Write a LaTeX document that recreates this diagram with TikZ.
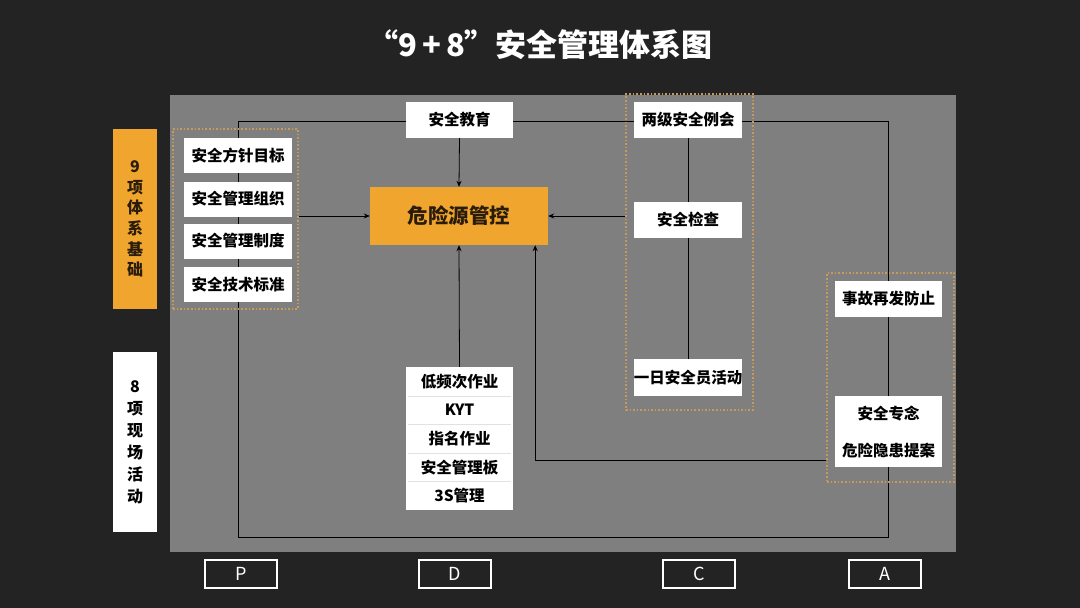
\documentclass[tikz,border=0pt]{standalone}
\usepackage{fontspec}
\setmainfont{Noto Sans CJK SC}
\usetikzlibrary{arrows.meta}
\pgfdeclarelayer{back}
\pgfdeclarelayer{bg}
\pgfsetlayers{back,bg,main}
\definecolor{bgdark}{HTML}{232323}
\definecolor{panel}{HTML}{7F7F7F}
\definecolor{orng}{HTML}{F0A52E}
\definecolor{dots}{HTML}{C99A58}
\definecolor{darktxt}{HTML}{2A1C0A}
\definecolor{sep}{HTML}{E2E2E2}
\tikzset{
  wbox/.style={fill=white, minimum width=107pt, minimum height=36pt, inner sep=0pt,
    font=\bfseries\fontsize{15.5}{15.5}\selectfont, text=black},
  rowbox/.style={fill=white, minimum width=107pt, minimum height=28.6pt, inner sep=0pt,
    font=\bfseries\fontsize{15.5}{15.5}\selectfont, text=black},
  dotbox/.style={draw=dots, dotted, line width=1.6pt, inner sep=0pt},
  side/.style={minimum width=44pt, minimum height=180pt, inner sep=0pt, align=center},
  pdca/.style={draw=white, line width=1.3pt, minimum width=72pt, minimum height=28pt,
    inner sep=0pt, text=white, font=\fontsize{18}{18}\selectfont},
  conn/.style={draw=black, line width=0.8pt},
  arr/.style={conn, -{Stealth[length=6pt,width=5pt]}}
}
\begin{document}
\begin{tikzpicture}[x=1pt,y=-1pt]
\useasboundingbox (0,0) rectangle (1080,608);
\begin{pgfonlayer}{back}
  \fill[bgdark] (0,0) rectangle (1080,608);
  \fill[panel] (170,95) rectangle (956,552);
\end{pgfonlayer}

% title
\node[text=white, font=\bfseries\fontsize{31}{31}\selectfont] (title) at (540,45) {“9\,+\,8”安全管理体系图};

% side labels
\node[side, fill=orng, text=darktxt, font=\bfseries\fontsize{16}{20.6}\selectfont] (nine) at (135,219) {9\\项\\体\\系\\基\\础};
\node[side, fill=white, text=black, font=\bfseries\fontsize{16}{22}\selectfont] (eight) at (135,442) {8\\项\\现\\场\\活\\动};

% dotted groups
\node[dotbox, minimum width=125pt, minimum height=180pt] (prect) at (235.5,219) {};
\node[dotbox, minimum width=127pt, minimum height=316pt] (crect) at (689.5,252) {};
\node[dotbox, minimum width=127pt, minimum height=209pt] (arect) at (890.5,377.5) {};

% P column
\node[wbox, minimum width=108pt, minimum height=35pt] (p1) at (238,155.5) {安全方针目标};
\node[wbox, minimum width=108pt, minimum height=35pt] (p2) at (238,199) {安全管理组织};
\node[wbox, minimum width=108pt, minimum height=35pt] (p3) at (238,241) {安全管理制度};
\node[wbox, minimum width=108pt, minimum height=35pt] (p4) at (238,284.5) {安全技术标准};

% center
\node[wbox] (edu) at (459.5,120) {安全教育};
\node[fill=orng, minimum width=178pt, minimum height=58pt, inner sep=0pt, text=darktxt,
  font=\bfseries\fontsize{20.5}{20.5}\selectfont] (hz) at (459,216) {危险源管控};

% D list
\node[rowbox] (d1) at (459.5,381.3) {低频次作业};
\node[rowbox] (d2) at (459.5,409.9) {KYT};
\node[rowbox] (d3) at (459.5,438.5) {指名作业};
\node[rowbox] (d4) at (459.5,467.1) {安全管理板};
\node[rowbox] (d5) at (459.5,495.7) {3S管理};
\foreach \a/\b in {d1/d2,d2/d3,d3/d4,d4/d5}
  \draw[sep, line width=0.6pt] ([xshift=2pt]\a.south west) -- ([xshift=-2pt]\a.south east);

% C column
\node[wbox, minimum width=108pt] (liang) at (688,120) {两级安全例会};
\node[wbox, minimum width=108pt] (check) at (688,220) {安全检查};
\node[wbox, minimum width=108pt, minimum height=37pt] (oneday) at (688,377.5) {一日安全员活动};

% A column
\node[wbox] (acc) at (888.5,299) {事故再发防止};
\node[wbox, minimum height=71pt, align=center, font=\bfseries\fontsize{15.5}{37}\selectfont] (ap) at (888.5,431.5) {安全专念\\危险隐患提案};

% PDCA
\node[pdca] (P) at (241,574) {P};
\node[pdca] (D) at (455,574) {D};
\node[pdca] (C) at (699,574) {C};
\node[pdca] (A) at (885,574) {A};

% connectors (behind nodes)
\begin{pgfonlayer}{bg}
  \coordinate (tl) at (238,121);
  \coordinate (bl) at (238,537);
  \coordinate (br) at (888.5,537);
  \coordinate (tr) at (888.5,121);
  \draw[conn] (edu.west |- tl) -- (tl) -- (bl) -- (br) -- (ap.south);
  \draw[conn] (edu.east |- tl) -- (liang.west |- tl);
  \draw[conn] (liang.east |- tr) -- (tr) -- (acc.north);
  \draw[conn] (acc.south) -- (ap.north);
  \draw[conn] (liang.south) -- (check.north);
  \draw[conn] (check.south) -- (oneday.north);
\end{pgfonlayer}

% arrows
\draw[arr] (edu.south) -- (hz.north);
\draw[arr] (prect.east |- hz.west) -- (hz.west);
\draw[arr] (crect.west |- hz.east) -- (hz.east);
\draw[arr] (d1.north) -- (hz.south);
\draw[arr] (arect.west |- 0,460) -| ([xshift=-13pt]hz.south east);
\end{tikzpicture}
\end{document}
